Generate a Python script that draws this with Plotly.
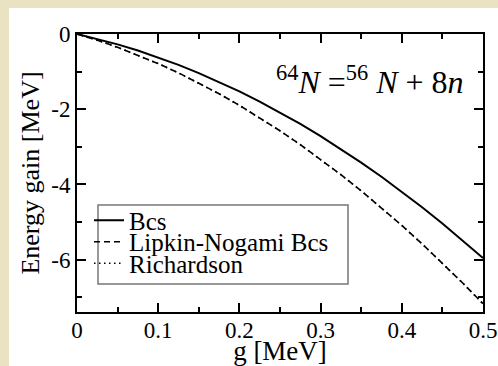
import plotly.graph_objects as go

# ---- data ----
g_values = [0.0, 0.025, 0.05, 0.075, 0.1, 0.125, 0.15, 0.175, 0.2, 0.225, 0.25,
            0.275, 0.3, 0.325, 0.35, 0.375, 0.4, 0.425, 0.45, 0.475, 0.5]
bcs = [0.0, -0.128, -0.275, -0.439, -0.620, -0.820, -1.038, -1.273, -1.526, -1.797, -2.086,
       -2.392, -2.717, -3.059, -3.419, -3.796, -4.192, -4.605, -5.037, -5.486, -5.953]
lipkin_nogami = [0.0, -0.166, -0.353, -0.559, -0.786, -1.033, -1.301, -1.588, -1.896, -2.224, -2.573,
                 -2.941, -3.330, -3.739, -4.169, -4.618, -5.088, -5.578, -6.089, -6.619, -7.170]
richardson = [0.0, -0.166, -0.354, -0.560, -0.787, -1.035, -1.303, -1.590, -1.898, -2.226, -2.575,
              -2.943, -3.332, -3.741, -4.171, -4.620, -5.090, -5.580, -6.091, -6.621, -7.172]

series_names = ["Bcs", "Lipkin-Nogami Bcs", "Richardson"]
x_tick_vals = [0, 0.1, 0.2, 0.3, 0.4, 0.5]
x_tick_text = ["0", "0.1", "0.2", "0.3", "0.4", "0.5"]
y_tick_vals = [0, -2, -4, -6]
y_tick_text = ["0", "-2", "-4", "-6"]
x_title = "g [MeV]"
y_title = "Energy gain [MeV]"
label_text = "<sup>64</sup><i>N</i> =<sup>56</sup> <i>N</i> + 8<i>n</i>"

FONT = "Liberation Serif"
BEIGE = "#e9e3c3"

fig = go.Figure()
fig.add_trace(go.Scatter(x=g_values, y=bcs, mode="lines", name=series_names[0], legend="legend",
                         line=dict(color="black", width=2, dash="solid")))
fig.add_trace(go.Scatter(x=g_values, y=lipkin_nogami, mode="lines", name=series_names[1], legend="legend2",
                         line=dict(color="black", width=1.6, dash="6px,4px")))
fig.add_trace(go.Scatter(x=g_values, y=richardson, mode="lines", name=series_names[2], legend="legend3",
                         line=dict(color="black", width=1.6, dash="1.5px,3.5px")))

axis_common = dict(
    showline=True, linecolor="black", linewidth=2, mirror="allticks",
    ticks="inside", ticklen=9, tickwidth=1.5, tickcolor="black",
    showgrid=False, zeroline=False, automargin=False, ticklabeloverflow="allow",
    tickfont=dict(family=FONT, size=23, color="black"),
)

fig.update_xaxes(
    range=[0, 0.5], tickmode="array", tickvals=x_tick_vals, ticktext=x_tick_text,
    ticklabelstandoff=-4,
    minor=dict(ticks="inside", ticklen=5, tickwidth=1.5, tickcolor="black",
               tickmode="linear", tick0=0, dtick=0.05),
    title=dict(text=x_title, font=dict(family=FONT, size=27, color="black"), standoff=0),
    **axis_common,
)
fig.update_yaxes(
    range=[-7.39, 0], tickmode="array", tickvals=y_tick_vals, ticktext=y_tick_text,
    minor=dict(ticks="inside", ticklen=5, tickwidth=1.5, tickcolor="black",
               tickmode="linear", tick0=0, dtick=1),
    title=dict(text=y_title, font=dict(family=FONT, size=26, color="black"), standoff=4),
    **axis_common,
)

# beige page strips (top and left) of the original figure
fig.add_shape(type="rect", xref="paper", yref="paper",
              x0=-0.3, x1=1.3, y0=1.0935, y1=1.3,
              fillcolor=BEIGE, line=dict(width=0), layer="below")
fig.add_shape(type="rect", xref="paper", yref="paper",
              x0=-0.3, x1=-0.1675, y0=-0.5, y1=1.3,
              fillcolor=BEIGE, line=dict(width=0), layer="below")

# legend frame
fig.add_shape(type="rect", xref="paper", yref="paper",
              x0=0.0517, x1=0.6675, y0=0.1007, y1=0.3849,
              fillcolor="white", line=dict(color="#777777", width=1.5), layer="above")

fig.add_annotation(xref="paper", yref="paper", x=0.958, y=0.835,
                   xanchor="right", yanchor="middle", showarrow=False,
                   text=label_text, font=dict(family=FONT, size=32, color="black"))

legend_common = dict(xanchor="left", yanchor="middle", bgcolor="rgba(0,0,0,0)",
                     borderwidth=0, font=dict(family=FONT, size=25, color="black"),
                     itemwidth=30)
fig.update_layout(
    width=498, height=366,
    margin=dict(l=77, r=15, t=34, b=54, autoexpand=False),
    paper_bgcolor="white", plot_bgcolor="white",
    font=dict(family=FONT, color="black", size=26),
    legend=dict(x=0.0296, y=0.3291, **legend_common),
    legend2=dict(x=0.0296, y=0.2518, **legend_common),
    legend3=dict(x=0.0296, y=0.1745, **legend_common),
    showlegend=True,
)

fig.write_html("out.html")
